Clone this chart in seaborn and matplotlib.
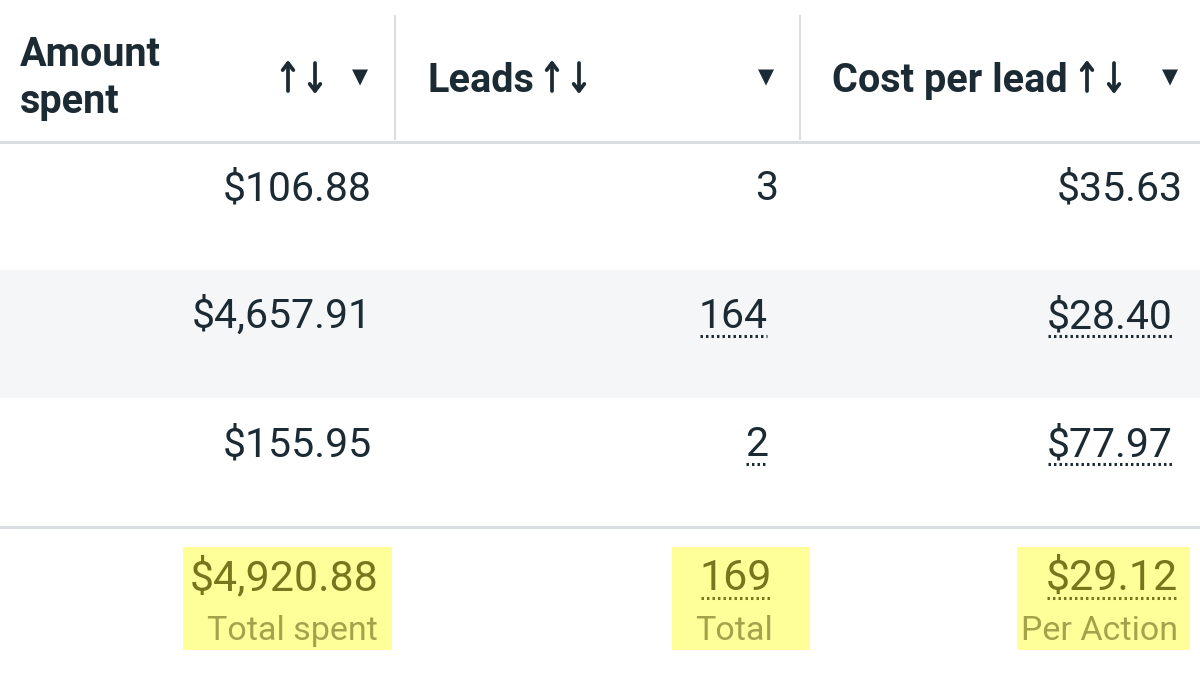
import matplotlib
matplotlib.use("Agg")
import matplotlib.pyplot as plt
from matplotlib.patches import Rectangle
import seaborn as sns

# --- data -----------------------------------------------------------------
header_amount = ["Amount", "spent"]
header_leads = "Leads"
header_cost = "Cost per lead"
amount_spent = [106.88, 4657.91, 155.95]
leads = [3, 164, 2]
cost_per_lead = [35.63, 28.40, 77.97]
dotted_rows = [False, True, True]      # leads / cost cells with dotted underline
total_spent = 4920.88
total_leads = 169
per_action = 29.12
summary_labels = ["Total spent", "Total", "Per Action"]

# --- style ------------------------------------------------------------------
sns.set_theme(style="white")
plt.rcParams["font.family"] = ["Roboto", "DejaVu Sans"]

INK = "#1c2b33"
RULE = "#dadde1"
BAND = "#f5f6f7"
HILITE = "#ffff99"
OLIVE = "#76761c"
OLIVE_LIGHT = "#a4a34c"

fig = plt.figure(figsize=(12, 6.75), dpi=100)
ax = fig.add_axes([0, 0, 1, 1])
ax.set_xlim(0, 1200)
ax.set_ylim(675, 0)
ax.axis("off")
fig.patch.set_facecolor("white")

# --- header -----------------------------------------------------------------
head_kw = dict(fontsize=28.5, fontweight="bold", color=INK, va="baseline")
ax.text(20, 66, header_amount[0], **head_kw)
ax.text(20, 113, header_amount[1], **head_kw)
ax.text(427, 92, header_leads, **head_kw)
ax.text(832, 92, header_cost, **head_kw)


def sort_arrows(x):
    # up arrow on the left, down arrow on the right
    style = dict(arrowstyle="->,head_length=0.42,head_width=0.32",
                 lw=2.7, color=INK, shrinkA=0, shrinkB=0)
    ax.annotate("", xy=(x, 60), xytext=(x, 91), arrowprops=style)
    ax.annotate("", xy=(x + 27, 94), xytext=(x + 27, 63), arrowprops=style)


for ax_x in (288, 552, 1087):
    sort_arrows(ax_x)

for tx in (360, 766, 1170):
    ax.text(tx, 77, "\u25BC", family="DejaVu Sans", fontsize=15, color=INK,
            ha="center", va="center")

# column separators and rules
for sx in (395, 800):
    ax.plot([sx, sx], [15, 140], color=RULE, lw=1.5, solid_capstyle="butt")
ax.plot([0, 1200], [142, 142], color=RULE, lw=2.2)
ax.plot([0, 1200], [527, 527], color=RULE, lw=2.2)

# --- body rows --------------------------------------------------------------
row_top = [142, 270, 398]
row_h = 128
ax.add_patch(Rectangle((0, row_top[1]), 1200, row_h, color=BAND, lw=0, zorder=0))

body_kw = dict(fontsize=29.5, color=INK, va="baseline", ha="right")
underlined = []
for i in range(len(amount_spent)):
    base = row_top[i] + 58
    ax.text(372, base, f"${amount_spent[i]:,.2f}", **body_kw)
    shift = 10 if dotted_rows[i] else 0
    t_lead = ax.text(778 - shift, base, f"{leads[i]}", **body_kw)
    t_cost = ax.text(1183 - shift, base, f"${cost_per_lead[i]:,.2f}", **body_kw)
    if dotted_rows[i]:
        underlined += [(t_lead, base, INK), (t_cost, base, INK)]

# --- summary ----------------------------------------------------------------
boxes = [(183, 392), (672, 810), (1017, 1190)]
for x0, x1 in boxes:
    ax.add_patch(Rectangle((x0, 547), x1 - x0, 103, color=HILITE, lw=0, zorder=0))

sum_kw = dict(fontsize=31, color=OLIVE, va="baseline", ha="right")
lab_kw = dict(fontsize=24.5, color=OLIVE_LIGHT, va="baseline", ha="right")
ax.text(378, 590, f"${total_spent:,.2f}", **sum_kw)
t_tot = ax.text(772, 590, f"{total_leads}", **sum_kw)
t_pa = ax.text(1178, 590, f"${per_action:,.2f}", **sum_kw)
underlined += [(t_tot, 590, OLIVE), (t_pa, 590, OLIVE)]
for lx, lab in zip((378, 773, 1178), summary_labels):
    ax.text(lx, 640, lab, **lab_kw)

# dotted underlines sized to each text
fig.canvas.draw()
renderer = fig.canvas.get_renderer()
inv = ax.transData.inverted()
for t, base, col in underlined:
    bb = t.get_window_extent(renderer)
    (x0, _), (x1, _) = inv.transform([(bb.x0, bb.y0), (bb.x1, bb.y1)])
    ax.plot([x0 + 1, x1 - 1], [base + 8, base + 8], color=col, lw=2.2,
            ls=(0, (0.8, 1.0)), solid_capstyle="butt")

fig.savefig("out.png", dpi=100, facecolor="white")
